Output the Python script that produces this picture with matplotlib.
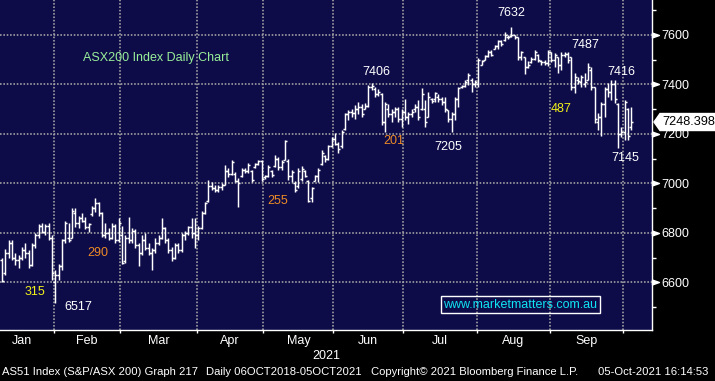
import matplotlib
matplotlib.use("Agg")
import matplotlib.pyplot as plt
import numpy as np
from matplotlib.path import Path

plt.rcParams['font.family'] = ['Liberation Sans', 'DejaVu Sans']

# ---------------- data (daily OHLC, ASX200, Jan-Oct 2021) ----------------
opens = [
    # Jan
    6690, 6640, 6720, 6760, 6700, 6690, 6700, 6730, 6720, 6670, 6750, 6790, 6830, 6805, 6830, 6780,
    # Feb
    6600, 6630, 6665, 6770, 6780, 6780, 6880, 6840, 6860, 6850, 6825, 6875, 6900, 6920, 6880, 6790, 6800, 6780, 6830, 6770,
    # Mar
    6790, 6685, 6780, 6770, 6810, 6750, 6720, 6770, 6740, 6720, 6730, 6760, 6780, 6820, 6770, 6730, 6700, 6750, 6730, 6790, 6800, 6825, 6800,
    # Apr
    6790, 6820, 6880, 6930, 6990, 6980, 6975, 6985, 6995, 7050, 7040, 7040, 7010, 7030, 7055, 7050, 7050, 7065, 7080, 7090,
    # May
    7025, 7030, 7050, 7070, 7100, 7065, 7095, 7090, 7030, 7000, 6990, 7020, 7050, 7010, 6940, 7010, 7030, 7080, 7110, 7100, 7150,
    # Jun
    7180, 7160, 7150, 7220, 7280, 7290, 7285, 7300, 7310, 7300, 7315, 7390, 7380, 7360, 7360, 7250, 7300, 7280, 7290, 7300, 7260,
    # Jul
    7290, 7270, 7280, 7300, 7310, 7300, 7300, 7270, 7340, 7340, 7350, 7340, 7330, 7295, 7260, 7280, 7340, 7390, 7395, 7420, 7420, 7400,
    # Aug
    7400, 7480, 7500, 7515, 7530, 7545, 7555, 7575, 7580, 7590, 7595, 7600, 7590, 7510, 7510, 7470, 7490, 7505, 7520, 7495, 7490, 7485,
    # Sep
    7530, 7500, 7510, 7480, 7520, 7525, 7510, 7390, 7420, 7410, 7400, 7420, 7460, 7390, 7250, 7270, 7320, 7380, 7370, 7400, 7320, 7200,
    # Oct
    7210, 7300, 7230,
]
highs = [
    6700, 6735, 6770, 6770, 6720, 6710, 6745, 6760, 6730, 6760, 6800, 6835, 6840, 6835, 6840, 6790,
    6650, 6675, 6775, 6850, 6840, 6900, 6900, 6870, 6880, 6865, 6840, 6910, 6940, 6925, 6885, 6840, 6820, 6840, 6835, 6860,
    6830, 6790, 6865, 6820, 6815, 6760, 6790, 6800, 6760, 6740, 6780, 6790, 6860, 6825, 6780, 6745, 6760, 6760, 6800, 6810, 6830, 6860, 6860,
    6830, 6890, 6925, 7014, 7006, 6994, 6995, 7000, 7075, 7063, 7095, 7046, 7022, 7063, 7063, 7083, 7055, 7083, 7095, 7095,
    7034, 7075, 7055, 7115, 7107, 7095, 7176, 7100, 7055, 7010, 7063, 7070, 7055, 7014, 6985, 7034, 7063, 7135, 7115, 7156, 7188,
    7204, 7168, 7216, 7285, 7297, 7300, 7317, 7330, 7320, 7325, 7398, 7406, 7390, 7380, 7366, 7330, 7320, 7300, 7310, 7310, 7300,
    7340, 7290, 7300, 7320, 7337, 7386, 7337, 7370, 7345, 7370, 7360, 7350, 7350, 7297, 7290, 7350, 7390, 7398, 7418, 7446, 7426, 7418,
    7507, 7499, 7519, 7539, 7539, 7560, 7580, 7580, 7612, 7600, 7632, 7600, 7590, 7535, 7511, 7495, 7511, 7539, 7525, 7499, 7500, 7539,
    7531, 7527, 7511, 7531, 7531, 7531, 7511, 7446, 7430, 7438, 7446, 7487, 7470, 7390, 7285, 7330, 7390, 7406, 7418, 7418, 7325, 7228,
    7337, 7305, 7309,
]
lows = [
    6600, 6630, 6700, 6690, 6670, 6660, 6690, 6700, 6660, 6665, 6740, 6780, 6800, 6790, 6770, 6610,
    6517, 6610, 6650, 6760, 6765, 6780, 6825, 6820, 6845, 6815, 6805, 6870, 6885, 6870, 6785, 6780, 6770, 6775, 6760, 6765,
    6675, 6680, 6760, 6760, 6740, 6665, 6710, 6730, 6710, 6650, 6720, 6750, 6775, 6760, 6720, 6685, 6695, 6720, 6725, 6770, 6790, 6780, 6740,
    6770, 6815, 6875, 6925, 6975, 6966, 6965, 6975, 6994, 7026, 7035, 7006, 6905, 7026, 7042, 7042, 7006, 7063, 7075, 7010,
    7020, 7026, 7026, 7067, 7055, 7055, 7095, 7014, 7006, 6966, 6982, 7010, 7026, 6925, 6925, 7010, 7006, 7075, 7087, 7095, 7148,
    7156, 7123, 7144, 7216, 7257, 7270, 7260, 7280, 7270, 7300, 7309, 7378, 7350, 7355, 7236, 7210, 7270, 7250, 7270, 7250, 7230,
    7255, 7240, 7270, 7290, 7257, 7297, 7228, 7267, 7325, 7330, 7330, 7317, 7290, 7250, 7208, 7257, 7309, 7386, 7390, 7398, 7370, 7390,
    7390, 7479, 7499, 7511, 7515, 7543, 7543, 7555, 7575, 7585, 7590, 7585, 7499, 7500, 7443, 7465, 7487, 7499, 7490, 7479, 7480, 7475,
    7490, 7471, 7446, 7459, 7511, 7487, 7378, 7366, 7400, 7390, 7390, 7418, 7378, 7245, 7216, 7190, 7270, 7350, 7337, 7325, 7145, 7188,
    7176, 7176, 7216,
]
closes = [
    6605, 6720, 6760, 6700, 6690, 6700, 6730, 6720, 6670, 6750, 6790, 6830, 6805, 6830, 6780, 6640,
    6630, 6665, 6770, 6840, 6770, 6890, 6840, 6860, 6850, 6825, 6835, 6900, 6920, 6880, 6790, 6800, 6780, 6830, 6770, 6840,
    6680, 6780, 6770, 6810, 6750, 6720, 6770, 6740, 6720, 6730, 6760, 6780, 6820, 6770, 6730, 6700, 6750, 6730, 6790, 6800, 6825, 6800, 6790,
    6820, 6880, 6920, 6990, 6980, 6975, 6985, 6995, 7050, 7040, 7085, 7010, 7000, 7055, 7050, 7075, 7015, 7080, 7090, 7020,
    7030, 7065, 7035, 7100, 7065, 7085, 7170, 7030, 7045, 6975, 7050, 7060, 7030, 6930, 6980, 7030, 7055, 7125, 7100, 7150, 7180,
    7160, 7140, 7210, 7280, 7290, 7285, 7300, 7310, 7280, 7315, 7390, 7395, 7360, 7370, 7250, 7320, 7280, 7290, 7300, 7260, 7290,
    7270, 7280, 7290, 7310, 7270, 7360, 7250, 7350, 7335, 7365, 7340, 7330, 7300, 7260, 7280, 7340, 7385, 7395, 7410, 7440, 7400, 7410,
    7500, 7495, 7515, 7530, 7520, 7555, 7575, 7565, 7600, 7590, 7600, 7590, 7510, 7530, 7470, 7480, 7505, 7530, 7500, 7490, 7485, 7530,
    7500, 7520, 7480, 7520, 7525, 7500, 7390, 7430, 7415, 7430, 7410, 7470, 7390, 7260, 7270, 7320, 7380, 7370, 7400, 7340, 7200, 7210,
    7330, 7190, 7248.398,
]

month_names = ["Jan", "Feb", "Mar", "Apr", "May", "Jun", "Jul", "Aug", "Sep", "Oct"]
month_days = [19, 20, 23, 20, 21, 21, 22, 22, 22, 3]   # trading days per month
jan_hidden = 3                                          # January days before the chart window
y_major = [6600, 6800, 7000, 7200, 7400, 7600]
y_minor = [6500, 6700, 6900, 7100, 7300, 7500, 7700]
year_label = "2021"
last_label = "7248.398"

# (text, x_px, y_px, colour) chart annotations
notes = [
    ("ASX200 Index Daily Chart", 156, 58, "#98ee98"),
    ("7632", 511, 13, "white"),
    ("7406", 376, 72, "white"),
    ("7487", 585, 45, "white"),
    ("7416", 621, 72, "white"),
    ("7205", 448, 147, "white"),
    ("7145", 625, 158, "white"),
    ("6517", 78, 307, "white"),
    ("315", 35, 292, "#f2f21a"),
    ("290", 98, 253, "#ec8a26"),
    ("255", 278, 201, "#ec8a26"),
    ("201", 394, 141, "#ec8a26"),
    ("487", 561, 109, "#f2f21a"),
]
footer = [
    ("AS51 Index (S&P/ASX 200) Graph 217", 2),
    ("Daily 06OCT2018-05OCT2021", 206),
    ("Copyright\u00a9 2021 Bloomberg Finance L.P.", 371),
    ("05-Oct-2021 16:14:53", 598),
]

# ---------------- figure ----------------
W, H = 715, 381
fig = plt.figure(figsize=(W / 100, H / 100), dpi=100, facecolor="black")
ax = fig.add_axes([0, 1 - 330 / H, 652 / W, 330 / H])
ax.set_facecolor("#0e0c48")

n = len(closes)
x = np.arange(n)
lw = 1.05
ax.vlines(x, lows, highs, color="white", lw=lw, zorder=3)
ax.hlines(opens, x - 0.6, x, color="white", lw=lw, zorder=3)
ax.hlines(closes, x, x + 0.6, color="white", lw=lw, zorder=3)

ax.set_xlim(-0.6, 195.2)
ax.set_ylim(6408, 7741.4)

cum = np.cumsum(month_days) - jan_hidden
starts = np.concatenate([[-jan_hidden], cum[:-1]])
boundaries = cum[:-1] - 0.5
ax.set_xticks(boundaries)
ax.set_xticklabels([])
ax.tick_params(axis="x", direction="out", length=2.5, width=1, color="white")

ax.yaxis.tick_right()
ax.set_yticks(y_major)
ax.set_yticks(y_minor, minor=True)
ax.set_yticklabels([str(v) for v in y_major])
ax.tick_params(axis="y", which="major", length=0, pad=6.5, labelcolor="white", labelsize=9)
ax.tick_params(axis="y", which="minor", length=3, width=1, color="white")

grid_kw = dict(color="#a8a8a8", lw=1.15, ls=(0, (1.0, 1.1)))
ax.grid(True, which="major", axis="both", **grid_kw)
ax.set_axisbelow(True)

for s in ["left", "top"]:
    ax.spines[s].set_visible(False)
for s in ["right", "bottom"]:
    ax.spines[s].set_color("white")
    ax.spines[s].set_linewidth(1.0)

tri = Path([(0, -0.35), (1, 0), (0, 0.35), (0, -0.35)], closed=True)
ax.plot([1] * len(y_major), y_major, ls="none", marker=tri, ms=10, color="white",
        transform=ax.get_yaxis_transform(), clip_on=False, zorder=5)

# month labels
for name, s0, e0 in zip(month_names, starts, cum):
    if name == "Oct":
        continue
    ax.text((s0 + e0 - 1) / 2, -0.033, name, transform=ax.get_xaxis_transform(),
            ha="center", va="center", color="white", fontsize=9, clip_on=False)
fig.text(326 / W, 1 - 356 / H, year_label, ha="center", va="center", color="white", fontsize=9)

for s, px, py, c in notes:
    fig.text(px / W, 1 - py / H, s, ha="center", va="center", color=c, fontsize=9)

fig.text(520.5 / W, 1 - 304.5 / H, "www.marketmatters.com.au", ha="center", va="center",
         color="#10e4f4", fontsize=9,
         bbox=dict(boxstyle="square,pad=0.18", fc="none", ec="white", lw=1.0))

for s, px in footer:
    fig.text(px / W, 1 - 372 / H, s, ha="left", va="center", color="white", fontsize=8.1)


def pentagon(x0, y0, width, height, mutation_size):
    px, py, tip = 2.0, 2.5, 6.0
    xa, ya = x0 - px, y0 - py
    xb, yb = x0 + width + px + 4, y0 + height + py
    ym = (ya + yb) / 2
    return Path([(xa - tip, ym), (xa, ya), (xb, ya), (xb, yb), (xa, yb), (xa - tip, ym)], closed=True)


ax.annotate(last_label, xy=(1, closes[-1]), xycoords=ax.get_yaxis_transform(),
            xytext=(7.2, 0), textcoords="offset points", ha="left", va="center",
            color="black", fontsize=9.2, annotation_clip=False,
            bbox=dict(boxstyle=pentagon, fc="white", ec="white"))

fig.savefig("out.png", dpi=100, facecolor="black")
